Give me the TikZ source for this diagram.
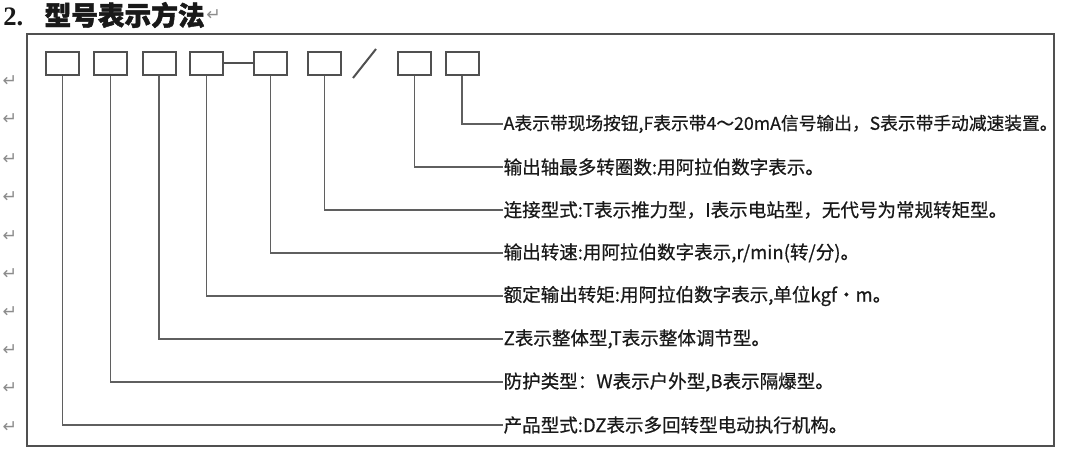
\documentclass[tikz,border=0pt]{standalone}
\usepackage{fontspec}
\setmainfont{Liberation Serif}
\newfontfamily\cjk[FakeBold=0.6]{Noto Sans CJK SC}
\newfontfamily\cjkbold[FakeBold=1.6]{Noto Sans CJK SC}
\newfontfamily\markfont{DejaVu Sans}
\usepackage{xcolor}
\usepackage{tikz}

\definecolor{inkgray}{RGB}{25,25,25}
\definecolor{boxgray}{RGB}{80,80,80}
\definecolor{linegray}{RGB}{95,95,95}
\definecolor{markgray}{RGB}{140,140,140}

\begin{document}
\begin{tikzpicture}[x=0.75pt, y=-0.75pt,
  codebox/.style={draw=boxgray, line width=1.5pt, minimum width=24.75pt, minimum height=17.25pt, inner sep=0pt},
  lbl/.style={anchor=west, inner sep=0.3pt, font=\cjk\fontsize{13.9}{16}\selectfont, text=inkgray},
  leader/.style={draw=linegray, line width=1.3pt},
  retmark/.style={font=\markfont\fontsize{13}{14}\selectfont, text=markgray, inner sep=0pt}]
\useasboundingbox (0,0) rectangle (1080,460);

% title
\node[anchor=west, inner sep=0pt, text=inkgray] (title) at (3,15)
  {\fontsize{20}{24}\selectfont\bfseries 2.\hspace{16pt}\cjkbold 型号表示方法};
\node[retmark, right=1pt] (r0) at (title.east) {↵};

% outer frame
\draw[draw=boxgray, line width=1.3pt] (27,34) rectangle (1054,446);

% paragraph marks in the margin
\node[retmark] (r1) at (10,81) {↵};
\node[retmark] (r2) at (10,119) {↵};
\node[retmark] (r3) at (10,159) {↵};
\node[retmark] (r4) at (10,197) {↵};
\node[retmark] (r5) at (10,236) {↵};
\node[retmark] (r6) at (10,274) {↵};
\node[retmark] (r7) at (10,312) {↵};
\node[retmark] (r8) at (10,350) {↵};
\node[retmark] (r9) at (10,388) {↵};
\node[retmark] (r10) at (10,427) {↵};

% code boxes
\node[codebox] (b1) at (62.5,63.5) {};
\node[codebox] (b2) at (110.5,63.5) {};
\node[codebox] (b3) at (159,63.5) {};
\node[codebox] (b4) at (206.5,63.5) {};
\node[codebox] (b5) at (270.5,63.5) {};
\node[codebox] (b6) at (324.5,63.5) {};
\node[codebox] (b7) at (414.5,63.5) {};
\node[codebox] (b8) at (462,63.5) {};
\draw[draw=boxgray, line width=1.5pt] (b4.east) -- (b5.west);
\draw[draw=boxgray, line width=1.5pt] (353,78) -- (376,49);

% explanations
\node[lbl, font=\cjk\fontsize{13.3}{16}\selectfont] (t8) at (503,124) {A表示带现场按钮,F表示带4～20mA信号输出，S表示带手动减速装置。};
\node[lbl] (t7) at (503,167) {输出轴最多转圈数:用阿拉伯数字表示。};
\node[lbl] (t6) at (503,210) {连接型式:T表示推力型，I表示电站型，无代号为常规转矩型。};
\node[lbl] (t5) at (503,253) {输出转速:用阿拉伯数字表示,r/min(转/分)。};
\node[lbl] (t4) at (503,296) {额定输出转矩:用阿拉伯数字表示,单位kgf·m。};
\node[lbl] (t3) at (503,339) {Z表示整体型,T表示整体调节型。};
\node[lbl] (t2) at (503,382) {防护类型：W表示户外型,B表示隔爆型。};
\node[lbl] (t1) at (503,425) {产品型式:DZ表示多回转型电动执行机构。};

% leaders
\draw[leader] (b8.south) |- (t8.west);
\draw[leader] (b7.south) |- (t7.west);
\draw[leader] (b6.south) |- (t6.west);
\draw[leader] (b5.south) |- (t5.west);
\draw[leader] (b4.south) |- (t4.west);
\draw[leader] (b3.south) |- (t3.west);
\draw[leader] (b2.south) |- (t2.west);
\draw[leader] (b1.south) |- (t1.west);
\end{tikzpicture}
\end{document}
